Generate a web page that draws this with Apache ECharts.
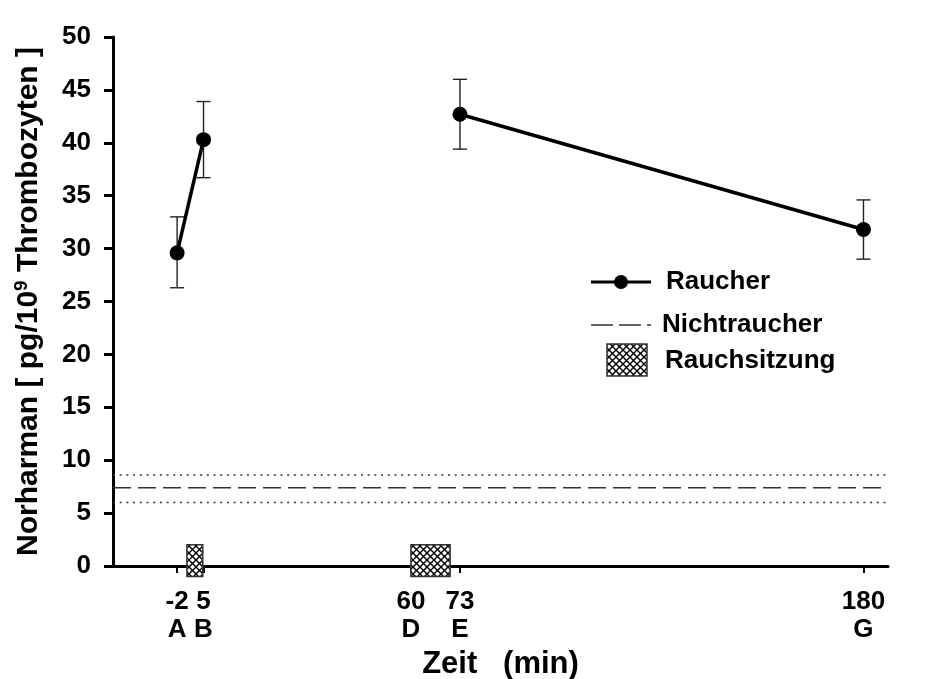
<!DOCTYPE html>
<html><head><meta charset="utf-8">
<script src="https://cdn.jsdelivr.net/npm/echarts@6/dist/echarts.min.js"></script>
<style>html,body{margin:0;padding:0;background:#fff}#c{width:930px;height:679px}</style>
</head><body><div id="c"></div>
<script>
// ---- data ----
const timeRaucher = [-2, 5, 73, 180];
const meanRaucher = [29.6, 40.3, 42.7, 31.8];
const lowRaucher  = [26.3, 36.7, 39.4, 29.0];
const highRaucher = [33.0, 43.9, 46.0, 34.6];
const segments = [[0, 1], [2, 3]];           // connected point groups
const nichtMean = 7.4, nichtHigh = 8.6, nichtLow = 6.0;
const sessionStart = [0.6, 60];
const sessionEnd   = [4.8, 70.4];
const sessionBottom = -1, sessionTop = 2;
const tickTimes   = [-2, 5, 60, 73, 180];
const tickLetters = ['A', 'B', 'D', 'E', 'G'];
const xMin = -19, xMax = 186.5, yMin = 0, yMax = 50, yStep = 5;

const FONT = '"Liberation Sans", Arial, sans-serif';

function hatch() {
  const s = 7, c = document.createElement('canvas');
  c.width = s; c.height = s;
  const g = c.getContext('2d');
  g.fillStyle = '#fff'; g.fillRect(0, 0, s, s);
  g.strokeStyle = '#000'; g.lineWidth = 1.4;
  g.beginPath();
  g.moveTo(0, 0); g.lineTo(s, s);
  g.moveTo(s, 0); g.lineTo(0, s);
  g.stroke();
  return c;
}
const pat = hatch();

const chart = echarts.init(document.getElementById('c'));

const series = [];
// non-smoker band lines
[[nichtMean, [18, 7]], [nichtHigh, [2, 4.7]], [nichtLow, [2, 4.7]]].forEach(([v, dash]) => {
  series.push({
    type: 'line', data: [[xMin, v], [xMax, v]], symbol: 'none', silent: true,
    lineStyle: { color: '#333', width: 1.4, type: dash }, z: 1
  });
});
// smoking sessions
series.push({
  type: 'custom', clip: false, z: 2,
  data: sessionStart.map((s, i) => [s, sessionEnd[i], sessionBottom, sessionTop]),
  renderItem: (params, api) => {
    const p0 = api.coord([api.value(0), api.value(3)]);
    const p1 = api.coord([api.value(1), api.value(2)]);
    return { type: 'rect', shape: { x: p0[0], y: p0[1], width: p1[0] - p0[0], height: p1[1] - p0[1] },
      style: { fill: { image: pat, repeat: 'repeat' }, stroke: '#333', lineWidth: 1.5 } };
  }
});
// error bars
series.push({
  type: 'custom', z: 3,
  data: timeRaucher.map((t, i) => [t, lowRaucher[i], highRaucher[i]]),
  renderItem: (params, api) => {
    const lo = api.coord([api.value(0), api.value(1)]);
    const hi = api.coord([api.value(0), api.value(2)]);
    const w = 7, st = { stroke: '#222', lineWidth: 1.4 };
    return { type: 'group', children: [
      { type: 'line', shape: { x1: lo[0], y1: lo[1], x2: hi[0], y2: hi[1] }, style: st },
      { type: 'line', shape: { x1: lo[0] - w, y1: lo[1], x2: lo[0] + w, y2: lo[1] }, style: st },
      { type: 'line', shape: { x1: hi[0] - w, y1: hi[1], x2: hi[0] + w, y2: hi[1] }, style: st }
    ] };
  }
});
// smokers
segments.forEach(seg => {
  series.push({
    type: 'line', z: 4,
    data: seg.map(i => [timeRaucher[i], meanRaucher[i]]),
    symbol: 'circle', symbolSize: 15,
    itemStyle: { color: '#000' },
    lineStyle: { color: '#000', width: 3.5 }
  });
});

chart.setOption({
  animation: false,
  grid: { left: 113, right: 42, top: 37, bottom: 113, outerBoundsMode: 'none', containLabel: false },
  xAxis: {
    type: 'value', min: xMin, max: xMax,
    name: 'Zeit   (min)', nameLocation: 'middle', nameGap: 78,
    nameTextStyle: { fontFamily: FONT, fontWeight: 'bold', fontSize: 31, color: '#000' },
    axisLine: { onZero: false, lineStyle: { color: '#000', width: 3 } },
    axisTick: { customValues: tickTimes, length: 7, lineStyle: { color: '#000', width: 2 } },
    axisLabel: {
      customValues: tickTimes, margin: 22,
      formatter: v => { const i = tickTimes.indexOf(v); return v + '\n' + tickLetters[i]; },
      fontFamily: FONT, fontWeight: 'bold', fontSize: 26, lineHeight: 28, color: '#000'
    },
    splitLine: { show: false }
  },
  yAxis: {
    type: 'value', min: yMin, max: yMax, interval: yStep,
    name: '{a|Norharman [ pg/10}{s|9}{a| Thrombozyten ]}', nameLocation: 'middle', nameGap: 67,
    nameTextStyle: {
      rich: {
        a: { fontFamily: FONT, fontWeight: 'bold', fontSize: 30, color: '#000' },
        s: { fontFamily: FONT, fontWeight: 'bold', fontSize: 19, color: '#000', verticalAlign: 'top', padding: [0, 0, 15, 0] }
      }
    },
    axisLine: { show: true, onZero: false, lineStyle: { color: '#000', width: 3 } },
    axisTick: { show: true, length: 9, lineStyle: { color: '#000', width: 3 } },
    axisLabel: { margin: 22, fontFamily: FONT, fontWeight: 'bold', fontSize: 26, color: '#000' },
    splitLine: { show: false }
  },
  graphic: [
    { type: 'line', shape: { x1: 591, y1: 282, x2: 651, y2: 282 }, style: { stroke: '#000', lineWidth: 3 } },
    { type: 'circle', shape: { cx: 621, cy: 282, r: 7 }, style: { fill: '#000' } },
    { type: 'text', x: 666, y: 282, style: { text: 'Raucher', fontFamily: FONT, fontWeight: 'bold', fontSize: 26, fill: '#000', verticalAlign: 'middle' } },
    { type: 'line', shape: { x1: 591, y1: 325, x2: 651, y2: 325 }, style: { stroke: '#333', lineWidth: 1.4, lineDash: [22, 6] } },
    { type: 'text', x: 662, y: 325, style: { text: 'Nichtraucher', fontFamily: FONT, fontWeight: 'bold', fontSize: 26, fill: '#000', verticalAlign: 'middle' } },
    { type: 'rect', shape: { x: 607, y: 344, width: 40, height: 32 }, style: { fill: { image: pat, repeat: 'repeat' }, stroke: '#333', lineWidth: 1.5 } },
    { type: 'text', x: 665, y: 361, style: { text: 'Rauchsitzung', fontFamily: FONT, fontWeight: 'bold', fontSize: 26, fill: '#000', verticalAlign: 'middle' } }
  ],
  series
});
</script></body></html>
